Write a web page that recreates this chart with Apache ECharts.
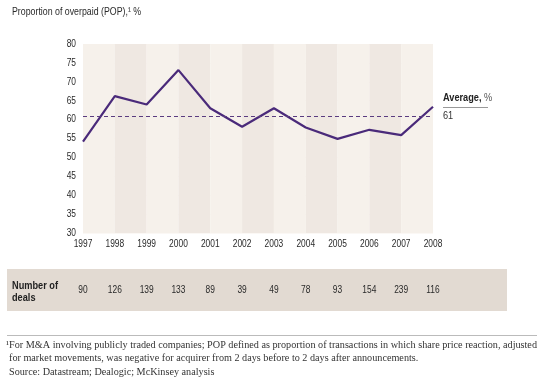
<!DOCTYPE html>
<html><head><meta charset="utf-8">
<script src="https://cdn.jsdelivr.net/npm/echarts@6/dist/echarts.min.js"></script>
<style>html,body{margin:0;padding:0;background:#fff}#c{width:545px;height:386px}</style>
</head><body><div id="c"></div>
<script>
const years = ['1997','1998','1999','2000','2001','2002','2003','2004','2005','2006','2007','2008'];
const pop = [54.2, 66.2, 64, 73.1, 63, 58.1, 63, 57.9, 54.9, 57.3, 55.9, 63.4];
const deals = ['90','126','139','133','89','39','49','78','93','154','239','116'];
const average = 61;
const yTicks = {min: 30, max: 80, interval: 5};

// Emulate a condensed sans face (none is installed) by narrowing Liberation Sans glyphs horizontally.
(function () {
  const S = 0.8;
  const proto = CanvasRenderingContext2D.prototype;
  const ft = proto.fillText, mt = proto.measureText;
  const isCond = ctx => /Liberation Sans/.test(ctx.font);
  proto.fillText = function (t, x, y) {
    if (!isCond(this)) return ft.apply(this, arguments);
    this.save(); this.translate(x, y); this.scale(S, 1); ft.call(this, t, 0, 0); this.restore();
  };
  proto.measureText = function (t) {
    const m = mt.call(this, t);
    if (!isCond(this)) return m;
    return {width: m.width * S,
      actualBoundingBoxAscent: m.actualBoundingBoxAscent, actualBoundingBoxDescent: m.actualBoundingBoxDescent,
      actualBoundingBoxLeft: m.actualBoundingBoxLeft * S, actualBoundingBoxRight: m.actualBoundingBoxRight * S,
      fontBoundingBoxAscent: m.fontBoundingBoxAscent, fontBoundingBoxDescent: m.fontBoundingBoxDescent};
  };
})();

const fam = '"Liberation Sans"';
const serif = '"Liberation Serif","DejaVu Serif",serif';
const lbl = {color: '#2a2a2a', fontFamily: fam, fontSize: 10.5};
const chart = echarts.init(document.getElementById('c'), null, {renderer: 'canvas'});
chart.setOption({
  animation: false,
  backgroundColor: '#fff',
  grid: [
    {left: 83, right: 112, top: 44, bottom: 153, containLabel: false},
    {left: 83, right: 112, top: 284, height: 1}
  ],
  xAxis: [
    {type: 'category', gridIndex: 0, data: years, boundaryGap: false,
     axisLine: {show: false}, axisTick: {show: false},
     axisLabel: Object.assign({interval: 0, margin: 7}, lbl),
     splitLine: {show: false},
     splitArea: {show: true, interval: 0, areaStyle: {color: ['#f6f1eb', '#efe8e2']}}},
    {type: 'category', gridIndex: 1, data: deals, boundaryGap: false,
     axisLine: {show: false}, axisTick: {show: false},
     axisLabel: Object.assign({interval: 0, margin: 1}, lbl)}
  ],
  yAxis: [
    {type: 'value', gridIndex: 0, min: yTicks.min, max: yTicks.max, interval: yTicks.interval,
     axisLine: {show: false}, axisTick: {show: false},
     axisLabel: Object.assign({margin: 7}, lbl),
     splitLine: {show: true, lineStyle: {color: '#fbf8f5', width: 1}}},
    {type: 'value', gridIndex: 1, show: false, min: 0, max: 1}
  ],
  graphic: [
    {type: 'rect', z: -10, shape: {x: 7, y: 269, width: 500, height: 42}, style: {fill: '#e2dad2'}},
    {type: 'text', left: 12, top: 8, style: {text: 'Proportion of overpaid (POP),¹ %', fill: '#2a2a2a', font: '11px ' + fam}},
    {type: 'text', left: 443, top: 93, style: {rich: {b: {fontFamily: fam, fontSize: 11.5, fontWeight: 'bold', fill: '#222'}, n: {fontFamily: fam, fontSize: 11.5, fill: '#555'}}, text: '{b|Average,}{n| %}'}},
    {type: 'line', shape: {x1: 443, y1: 107.5, x2: 488, y2: 107.5}, style: {stroke: '#999', lineWidth: 1}},
    {type: 'text', left: 443, top: 111, style: {text: '61', fill: '#333', font: '11.5px ' + fam}},
    {type: 'text', left: 12, top: 280, style: {text: 'Number of\ndeals', fill: '#222', font: 'bold 11.5px ' + fam, lineHeight: 12}},
    {type: 'line', shape: {x1: 7, y1: 335.5, x2: 537, y2: 335.5}, style: {stroke: '#bbb', lineWidth: 1}},
    {type: 'text', left: 6, top: 340, style: {text: '¹For M&A involving publicly traded companies; POP defined as proportion of transactions in which share price reaction, adjusted', fill: '#333', font: '10.2px ' + serif}},
    {type: 'text', left: 9, top: 353, style: {text: 'for market movements, was negative for acquirer from 2 days before to 2 days after announcements.', fill: '#333', font: '10.2px ' + serif}},
    {type: 'text', left: 9, top: 367, style: {text: 'Source: Datastream; Dealogic; McKinsey analysis', fill: '#333', font: '10.2px ' + serif}}
  ],
  series: [
    {type: 'line', xAxisIndex: 0, yAxisIndex: 0, data: pop, symbol: 'none',
     lineStyle: {color: '#4a2a7a', width: 2.2},
     markLine: {silent: true, symbol: 'none', label: {show: false},
       lineStyle: {color: '#5a3c80', type: [4, 3], width: 1.2},
       data: [{yAxis: average}]}}
  ]
});
</script></body></html>
